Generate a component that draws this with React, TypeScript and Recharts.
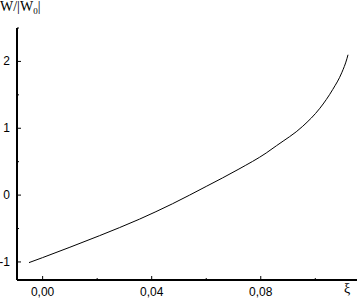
import React from 'react';
import { LineChart, Line, XAxis, YAxis } from 'recharts';

const xiValues = [-0.005, 0.0, 0.01, 0.0208, 0.0355, 0.0476, 0.06, 0.072, 0.082, 0.0858, 0.0954, 0.1017, 0.1064, 0.1097, 0.1116, 0.112];
const wValues = [-1.01, -0.935, -0.78, -0.608, -0.36, -0.13, 0.13, 0.39, 0.63, 0.74, 1.03, 1.3, 1.58, 1.83, 2.04, 2.1];

const xTicks = [0, 0.02, 0.04, 0.06, 0.08, 0.1];
const xMajor = [0, 0.04, 0.08];
const xLabels = ['0,00', '0,04', '0,08'];
const yTicks = [-1, -0.5, 0, 0.5, 1, 1.5, 2, 2.5];
const yMajor = [-1, 0, 1, 2];
const yLabels = ['-1', '0', '1', '2'];

const data = xiValues.map((x, i) => ({ xi: x, w: wValues[i] }));

const tickFont = { fontFamily: 'Liberation Sans, Arial, sans-serif', fontSize: 12 };

const YTick = (props: any) => {
  const { x, y, payload } = props;
  const idx = yMajor.indexOf(payload.value);
  const major = idx >= 0;
  return (
    <g>
      <line x1={x} x2={x + (major ? 4 : 2)} y1={y} y2={y} stroke="#000" strokeWidth={1} />
      {major && (
        <text x={x - 7} y={y} dy={4} textAnchor="end" fill="#000" style={tickFont}>
          {yLabels[idx]}
        </text>
      )}
    </g>
  );
};

const XTick = (props: any) => {
  const { x, y, payload } = props;
  const idx = xMajor.indexOf(payload.value);
  const major = idx >= 0;
  return (
    <g>
      <line x1={x} x2={x} y1={y} y2={y - (major ? 4 : 2)} stroke="#000" strokeWidth={1} />
      {major && (
        <text x={x} y={y + 16} textAnchor="middle" fill="#000" style={tickFont}>
          {xLabels[idx]}
        </text>
      )}
    </g>
  );
};

export default function App() {
  return (
    <div style={{ position: 'absolute', left: 0, top: 0, width: 357, height: 299, background: '#fff' }}>
      <LineChart width={357} height={299} data={data} margin={{ top: 28, right: 0, bottom: 0, left: 0 }}>
        <XAxis
          dataKey="xi"
          type="number"
          domain={[-0.0094, 0.1153]}
          ticks={xTicks}
          tickSize={0}
          tickMargin={0}
          height={19}
          tickLine={false}
          axisLine={{ stroke: '#000', strokeWidth: 2 }}
          tick={<XTick />}
          allowDataOverflow
        />
        <YAxis
          type="number"
          domain={[-1.27, 2.5]}
          ticks={yTicks}
          tickSize={0}
          tickMargin={0}
          width={17}
          tickLine={false}
          axisLine={{ stroke: '#000', strokeWidth: 2 }}
          tick={<YTick />}
          allowDataOverflow
        />
        <Line
          dataKey="w"
          type="monotone"
          stroke="#000"
          strokeWidth={1}
          dot={false}
          isAnimationActive={false}
        />
      </LineChart>
      <div style={{ position: 'absolute', left: 0, top: -1, fontFamily: 'Liberation Serif, serif', fontSize: 14, lineHeight: '16px', color: '#000' }}>
        W/|W<sub style={{ fontSize: 9, verticalAlign: -3 }}>0</sub>|
      </div>
      <div style={{ position: 'absolute', left: 344, top: 281, fontFamily: 'Liberation Serif, serif', fontSize: 14, lineHeight: '16px', color: '#000' }}>
        ξ
      </div>
    </div>
  );
}
